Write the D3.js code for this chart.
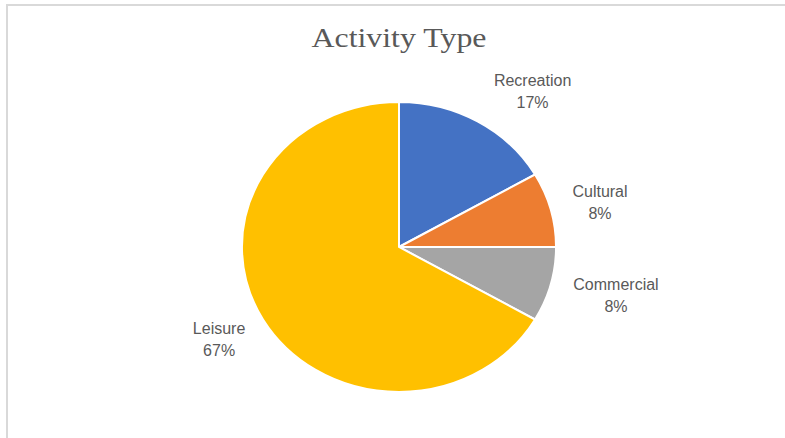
<!DOCTYPE html>
<html>
<head>
<meta charset="utf-8">
<script src="https://cdn.jsdelivr.net/npm/d3@7"></script>
<style>
  html, body { margin: 0; padding: 0; background: #fff; }
  svg { display: block; }
</style>
</head>
<body>
<div id="chart"></div>
<script>
// Activity type shares (counts: 2, 1, 1, 8 of 12)
const categories = ['Recreation', 'Cultural', 'Commercial', 'Leisure'];
const counts = [2, 1, 1, 8];
const percentLabels = ['17%', '8%', '8%', '67%'];
const colors = ['#4472C4', '#ED7D31', '#A5A5A5', '#FFC000'];

const w = 785;
const h = 438;
const cx = 399;
const cy = 247;
const r = 145;
const stretchX = 1.083; // the source picture is slightly wider than tall

// Excel moves a few labels off the plain centroid spot
const labelNudge = {
  Recreation: [28, 13],
  Cultural: [-3, 6],
  Commercial: [13, -2],
  Leisure: [3, -5]
};

const data = categories.map((c, i) => ({ name: c, value: counts[i], pct: percentLabels[i], color: colors[i] }));

const svg = d3.select('#chart')
  .append('svg')
  .attr('width', w)
  .attr('height', h);

// Chart area border
svg.append('rect')
  .attr('x', 7)
  .attr('y', 5)
  .attr('width', w + 10)
  .attr('height', h + 10)
  .attr('fill', 'none')
  .attr('stroke', '#d9d9d9')
  .attr('stroke-width', 2);

// Title
svg.append('text')
  .attr('x', cx)
  .attr('y', 47)
  .attr('text-anchor', 'middle')
  .attr('font-family', '"Liberation Serif", "DejaVu Serif", serif')
  .attr('font-size', '27px')
  .attr('fill', '#595959')
  .attr('textLength', 175)
  .attr('lengthAdjust', 'spacingAndGlyphs')
  .text('Activity Type');

const pie = d3.pie().sort(null).value(d => d.value);
const arcs = pie(data);

const arc = d3.arc().innerRadius(0).outerRadius(r);
const labelArc = d3.arc().innerRadius(195).outerRadius(195);

const g = svg.append('g')
  .attr('transform', `translate(${cx}, ${cy}) scale(${stretchX}, 1)`);

g.selectAll('path')
  .data(arcs)
  .enter()
  .append('path')
  .attr('d', arc)
  .attr('fill', d => d.data.color)
  .attr('stroke', '#fff')
  .attr('stroke-width', 2)
  .attr('vector-effect', 'non-scaling-stroke');

// Labels: name and percent on two lines
const labels = svg.selectAll('g.label')
  .data(arcs)
  .enter()
  .append('g')
  .attr('class', 'label')
  .attr('transform', d => {
    const [lx, ly] = labelArc.centroid(d);
    const n = labelNudge[d.data.name] || [0, 0];
    return `translate(${cx + lx * stretchX + n[0]}, ${cy + ly + n[1]})`;
  });

labels.append('text')
  .attr('y', -11)
  .attr('dy', '0.35em')
  .attr('text-anchor', 'middle')
  .attr('font-family', '"Liberation Sans", Arial, sans-serif')
  .attr('font-size', '16px')
  .attr('fill', '#595959')
  .text(d => d.data.name);

labels.append('text')
  .attr('y', 11)
  .attr('dy', '0.35em')
  .attr('text-anchor', 'middle')
  .attr('font-family', '"Liberation Sans", Arial, sans-serif')
  .attr('font-size', '16px')
  .attr('fill', '#595959')
  .text(d => d.data.pct);
</script>
</body>
</html>
